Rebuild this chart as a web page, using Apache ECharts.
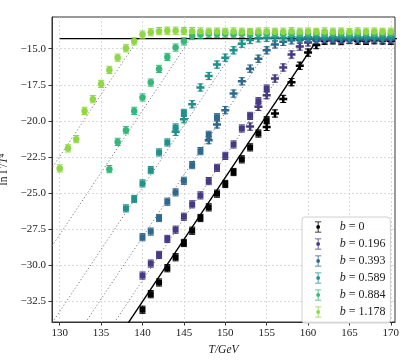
<!DOCTYPE html>
<html>
<head>
<meta charset="utf-8">
<script src="https://cdn.jsdelivr.net/npm/echarts@6/dist/echarts.min.js"></script>
<style>
  html, body { margin: 0; padding: 0; background: #fff; }
  #chart { width: 415px; height: 363px; }
</style>
</head>
<body>
<div id="chart"></div>
<script>
// tick positions
const xTicks = [130, 135, 140, 145, 150, 155, 160, 165, 170];
const yTicks = [-32.5, -30, -27.5, -25, -22.5, -20, -17.5, -15];

// b = 0 (black): squares from T=140, pluses from T=155
const b0SqStart = 140;
const b0Sq = [-33.10, -32.02, -31.21, -30.22, -29.46, -28.47, -27.62, -26.74, -26.00, -25.05,
  -24.38, -23.55, -22.67, -21.84, -20.88, -19.96];
const b0PlStart = 155;
const b0Pl = [-20.42, -19.49, -18.48, -17.32, -16.18, -15.27, -14.75, -14.45, -14.42, -14.47,
  -14.40, -14.44, -14.46, -14.41, -14.43, -14.45];

// b = 0.196
const b1SqStart = 140;
const b1Sq = [-30.73, -29.90, -29.30, -28.19, -27.55, -26.65, -25.79, -25.17, -24.18, -23.26,
  -22.43, -21.64, -20.53, -19.66, -18.64, -17.76];
const b1PlStart = 153;
const b1Pl = [-20.40, -19.03, -18.22, -17.07, -16.30, -15.40, -14.85, -14.56, -14.42, -14.38,
  -14.36, -14.40, -14.37, -14.35, -14.39, -14.36, -14.38, -14.37];

// b = 0.393
const b2SqStart = 140;
const b2Sq = [-28.07, -27.68, -26.74, -25.61, -24.96, -24.16, -23.07, -22.10, -20.97, -19.75];
const b2PlStart = 148;
const b2Pl = [-21.34, -20.25, -19.26, -18.11, -17.26, -16.38, -15.69, -15.11, -14.70, -14.52,
  -14.42, -14.38, -14.33, -14.36, -14.31, -14.34, -14.30, -14.35, -14.32, -14.33, -14.30, -14.34, -14.31];

// b = 0.589
const b3SqStart = 138;
const b3Sq = [-26.07, -25.42, -24.34, -23.42, -22.19, -21.50, -20.46, -19.45];
const b3PlStart = 144;
const b3Pl = [-20.76, -19.89, -18.85, -17.69, -16.89, -16.10, -15.62, -15.11, -14.65, -14.40,
  -14.28, -14.24, -14.22, -14.26, -14.21, -14.24, -14.20, -14.23, -14.25, -14.21, -14.22, -14.24,
  -14.20, -14.23, -14.22, -14.25, -14.21];

// b = 0.884 (circles)
const b4Start = 136;
const b4 = [-23.35, -21.46, -20.65, -19.31, -18.38, -17.35, -16.40, -15.57, -14.92, -14.49,
  -14.12, -14.02, -13.97, -13.98, -13.96, -13.99, -13.97, -13.95, -13.98, -13.96, -13.97, -13.99,
  -13.96, -13.98, -13.97, -13.95, -13.98, -13.96, -13.97, -13.99, -13.96, -13.97, -13.98, -13.96, -13.97];

// b = 1.178 (circles)
const b5Start = 130;
const b5 = [-23.30, -21.91, -21.27, -19.31, -18.50, -17.44, -16.47, -15.62, -14.97, -14.49,
  -14.02, -13.86, -13.78, -13.75, -13.75, -13.77, -13.78, -13.80, -13.82, -13.81, -13.83, -13.80,
  -13.82, -13.84, -13.81, -13.80, -13.83, -13.82, -13.79, -13.82, -13.81, -13.83, -13.80, -13.82,
  -13.81, -13.84, -13.80, -13.82, -13.81, -13.83, -13.82];

// fit lines: plateau, slope, and the T where each line meets the plateau
const plateau = -14.3;
const slope = 0.86;
const tcFit = [161.2, 159.5, 156.0, 152.0, 145.8, 139.5];

const names = ['b = 0', 'b = 0.196', 'b = 0.393', 'b = 0.589', 'b = 0.884', 'b = 1.178'];
const colors = ['#000000', '#453a84', '#30688e', '#21918c', '#35b779', '#8fd744'];
const ERR = 0.25;

const FONT = 'Liberation Serif';
const PLUS = 'path://M-1,-3.2H1V-1H3.2V1H1V3.2H-1V1H-3.2V-1H-1Z';
const ERRICON = 'path://M0,0H8V1H0Z M3.5,0H4.5V14H3.5Z M0,13H8V14H0Z M4,4.6A2.4,2.4 0 1 1 3.99,4.6Z';

function pts(t0, vals) {
  return vals.map((v, i) => [t0 + i, v]);
}

function errRender(params, api) {
  const x = api.value(0), y = api.value(1), e = api.value(2);
  const hi = api.coord([x, y + e]);
  const lo = api.coord([x, y - e]);
  const c = api.visual('color');
  const w = 3;
  const st = { stroke: c, lineWidth: 1 };
  return {
    type: 'group',
    children: [
      { type: 'line', shape: { x1: hi[0], y1: hi[1], x2: lo[0], y2: lo[1] }, style: st },
      { type: 'line', shape: { x1: hi[0] - w, y1: hi[1], x2: hi[0] + w, y2: hi[1] }, style: st },
      { type: 'line', shape: { x1: lo[0] - w, y1: lo[1], x2: lo[0] + w, y2: lo[1] }, style: st }
    ]
  };
}

const series = [];

// dotted fit lines for b > 0
for (let k = 1; k < tcFit.length; k++) {
  const tc = tcFit[k];
  series.push({
    type: 'line', silent: true, symbol: 'none', z: 1,
    data: [[tc - 40, plateau - 40 * slope], [tc, plateau]],
    lineStyle: { color: '#7a7a7a', width: 1, type: [1.2, 2.2] }
  });
}
// black fit: diagonal + plateau line
series.push({
  type: 'line', silent: true, symbol: 'none', z: 3,
  data: [[tcFit[0] - 40, plateau - 40 * slope], [tcFit[0], plateau]],
  lineStyle: { color: '#000', width: 1.4 }
});
series.push({
  type: 'line', silent: true, symbol: 'none', z: 3,
  data: [[130, plateau], [171, plateau]],
  lineStyle: { color: '#000', width: 1.4 }
});

function addGroup(name, color, sym, size, data, inLegend) {
  series.push({
    type: 'custom', silent: true, z: 4,
    itemStyle: { color: color },
    renderItem: errRender,
    data: data.map(p => [p[0], p[1], ERR])
  });
  series.push({
    type: 'scatter', name: inLegend ? name : name + ' ', z: 5,
    symbol: sym, symbolSize: size,
    itemStyle: { color: color, opacity: 1 },
    data: data
  });
}

addGroup(names[0], colors[0], 'rect', 6, pts(b0SqStart, b0Sq), true);
addGroup(names[0], colors[0], PLUS, 8, pts(b0PlStart, b0Pl), false);
addGroup(names[1], colors[1], 'rect', 6, pts(b1SqStart, b1Sq), true);
addGroup(names[1], colors[1], PLUS, 8, pts(b1PlStart, b1Pl), false);
addGroup(names[2], colors[2], 'rect', 6, pts(b2SqStart, b2Sq), true);
addGroup(names[2], colors[2], PLUS, 8, pts(b2PlStart, b2Pl), false);
addGroup(names[3], colors[3], 'rect', 6, pts(b3SqStart, b3Sq), true);
addGroup(names[3], colors[3], PLUS, 8, pts(b3PlStart, b3Pl), false);
addGroup(names[4], colors[4], 'circle', 6.5, pts(b4Start, b4), true);
addGroup(names[5], colors[5], 'circle', 6.5, pts(b5Start, b5), true);

const chart = echarts.init(document.getElementById('chart'));
chart.setOption({
  animation: false,
  backgroundColor: '#fff',
  grid: {
    left: 52, top: 17, right: 20, bottom: 41, show: true, borderColor: '#333', borderWidth: 1,
    outerBoundsMode: 'none', containLabel: false
  },
  xAxis: {
    type: 'value', min: 129.07, max: 170.5,
    axisLine: { lineStyle: { color: '#333', width: 1 } },
    axisTick: { show: true, length: 3.5, customValues: xTicks, lineStyle: { color: '#333' } },
    axisLabel: { customValues: xTicks, margin: 6, fontFamily: FONT, fontSize: 11, color: '#222' },
    splitLine: { show: true, lineStyle: { color: '#d2d2d2', type: [2, 2], width: 0.8 } },
    name: 'T/GeV', nameLocation: 'middle', nameGap: 16,
    nameTextStyle: { fontFamily: FONT, fontSize: 11.5, fontStyle: 'italic', color: '#222' }
  },
  yAxis: {
    type: 'value', min: -33.95, max: -12.8,
    axisLine: { show: true, lineStyle: { color: '#333', width: 1 } },
    axisTick: { show: true, length: 3.5, customValues: yTicks, lineStyle: { color: '#333' } },
    axisLabel: {
      customValues: yTicks, margin: 6, fontFamily: FONT, fontSize: 11, color: '#222',
      formatter: v => (v < 0 ? '\u2212' : '') + Math.abs(v).toFixed(1)
    },
    splitLine: { show: true, lineStyle: { color: '#d2d2d2', type: [2, 2], width: 0.8 } },
    name: '{a|ln Γ/}{b|T}{a|⁴}', nameLocation: 'middle', nameGap: 35,
    nameTextStyle: {
      fontFamily: FONT, fontSize: 11.5, color: '#222',
      rich: {
        a: { fontFamily: FONT, fontSize: 11.5, color: '#222' },
        b: { fontFamily: FONT, fontSize: 11.5, color: '#222', fontStyle: 'italic' }
      }
    }
  },
  legend: {
    orient: 'vertical', left: 302, top: 217,
    padding: [4, 5, 5, 13], itemGap: 5, itemWidth: 7, itemHeight: 11,
    backgroundColor: 'rgba(255,255,255,0.85)', borderColor: '#d0d0d0', borderWidth: 1, borderRadius: 3,
    data: names.map(n => ({ name: n, icon: ERRICON })),
    formatter: n => '{i|b}{r| = ' + n.slice(4) + '}',
    textStyle: {
      fontFamily: FONT, fontSize: 12, color: '#222',
      rich: {
        i: { fontFamily: FONT, fontSize: 12, fontStyle: 'italic', color: '#222', padding: [0, 0, 0, 13] },
        r: { fontFamily: FONT, fontSize: 12, color: '#222' }
      }
    },
    selectedMode: false
  },
  series: series
});
</script>
</body>
</html>
